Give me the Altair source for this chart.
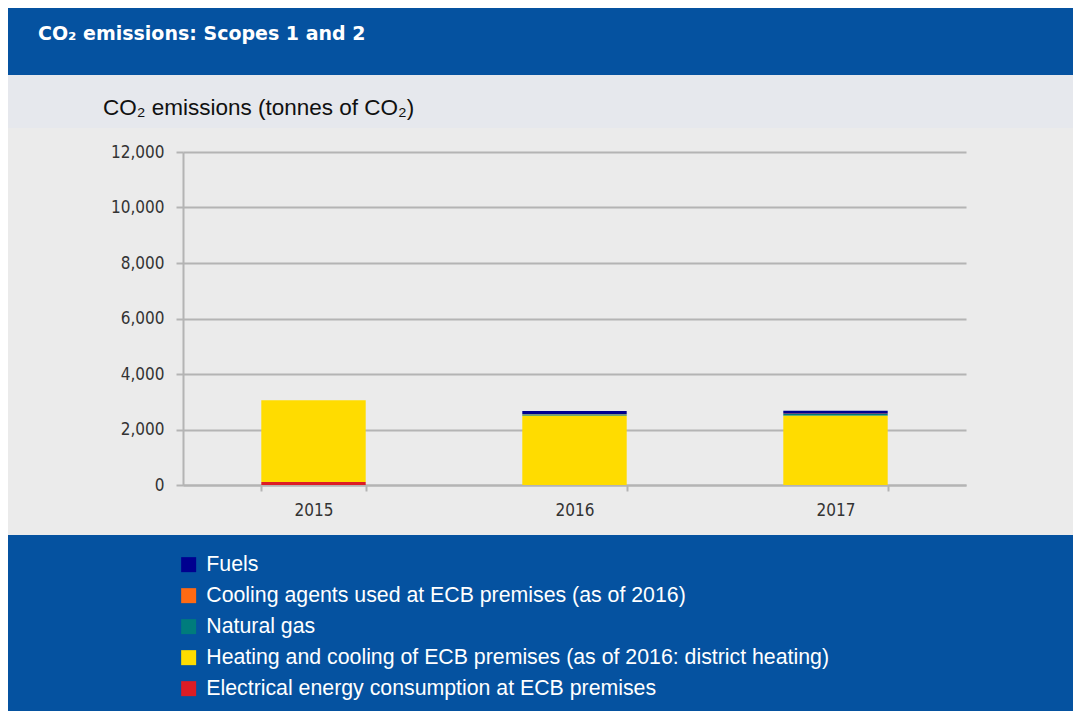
import altair as alt
import pandas as pd

# ---- data ----
years = ["2015", "2016", "2017"]
categories = [
    "Fuels",
    "Cooling agents used at ECB premises (as of 2016)",
    "Natural gas",
    "Heating and cooling of ECB premises (as of 2016: district heating)",
    "Electrical energy consumption at ECB premises",
]
colors = ["#00008f", "#ff6a13", "#007c7c", "#ffdc00", "#dd1c24"]
stack_order = [4, 3, 2, 1, 0]  # electrical at the bottom

fuels = [0, 105, 110]
cooling_agents = [0, 15, 10]
natural_gas = [0, 45, 55]
heating = [2940, 2500, 2500]
electrical = [110, 0, 0]

series = [fuels, cooling_agents, natural_gas, heating, electrical]
y_ticks = [0, 2000, 4000, 6000, 8000, 10000, 12000]

title_text = "CO₂ emissions: Scopes 1 and 2"
subtitle_text = "CO₂ emissions (tonnes of CO₂)"

rows = []
for cat, vals, o in zip(categories, series, stack_order):
    for yr, v in zip(years, vals):
        rows.append({"year": yr, "category": cat, "value": v, "ord": o})
df = pd.DataFrame(rows)

BLUE = "#0552a0"
W, H = 783, 333
PAD = {"left": 175, "top": 144, "right": 107, "bottom": 226}
one = pd.DataFrame({"a": [0]})

def band(color, y0, y1):
    return alt.Chart(one).mark_rect(color=color).encode(
        x=alt.value(-PAD["left"]), x2=alt.value(W + PAD["right"]),
        y=alt.value(y0), y2=alt.value(y1))

title_band = band(BLUE, -144, -77)
sub_band = band("#e6e8ed", -77, -24)
legend_band = band(BLUE, 383, 559)

title = alt.Chart(one).mark_text(
    text=title_text, align="left", baseline="middle", font="DejaVu Sans",
    fontWeight="bold", fontSize=19, color="white"
).encode(x=alt.value(-145), y=alt.value(-118))

subtitle = alt.Chart(one).mark_text(
    text=subtitle_text, align="left", baseline="middle", font="Liberation Sans",
    fontSize=22.5, color="#111111"
).encode(x=alt.value(-80), y=alt.value(-44))

narrow = "Liberation Sans Narrow, DejaVu Sans Condensed, sans-serif"

bars = alt.Chart(df).mark_bar().encode(
    x=alt.X("year:N", sort=years, title=None,
            scale=alt.Scale(paddingInner=0.6, paddingOuter=0.3),
            axis=alt.Axis(labelAngle=0, tickBand="extent", domainColor="#b4b4b4",
                          domainWidth=2, tickColor="#b4b4b4", tickWidth=2, tickSize=6,
                          labelPadding=11, labelFont=narrow, labelFontSize=17,
                          labelColor="#333333", grid=False)),
    y=alt.Y("value:Q", stack="zero", title=None,
            scale=alt.Scale(domain=[0, 12000]),
            axis=alt.Axis(values=y_ticks, format=",d", domainColor="#b4b4b4",
                          domainWidth=2, tickColor="#b4b4b4", tickWidth=2, tickSize=7,
                          gridColor="#b4b4b4", gridWidth=2, labelPadding=12,
                          labelFont=narrow, labelFontSize=17, labelColor="#333333")),
    color=alt.Color("category:N",
                    scale=alt.Scale(domain=categories, range=colors),
                    legend=alt.Legend(orient="none", legendX=-5, legendY=402,
                                      title=None, symbolType="square", symbolSize=225,
                                      symbolStrokeWidth=0, labelFont="Liberation Sans",
                                      labelFontSize=21.3, labelColor="white",
                                      labelLimit=900, labelOffset=7, rowPadding=9,
                                      padding=0)),
    order=alt.Order("ord:Q", sort="ascending"),
)

chart = alt.layer(title_band, sub_band, legend_band, title, subtitle, bars).properties(
    width=W, height=H,
    autosize=alt.AutoSizeParams(type="none"),
    padding=PAD,
    background="#ebebeb",
).configure_view(stroke=None)

chart.save("out.html", embed_options={"renderer": "svg", "actions": False})
